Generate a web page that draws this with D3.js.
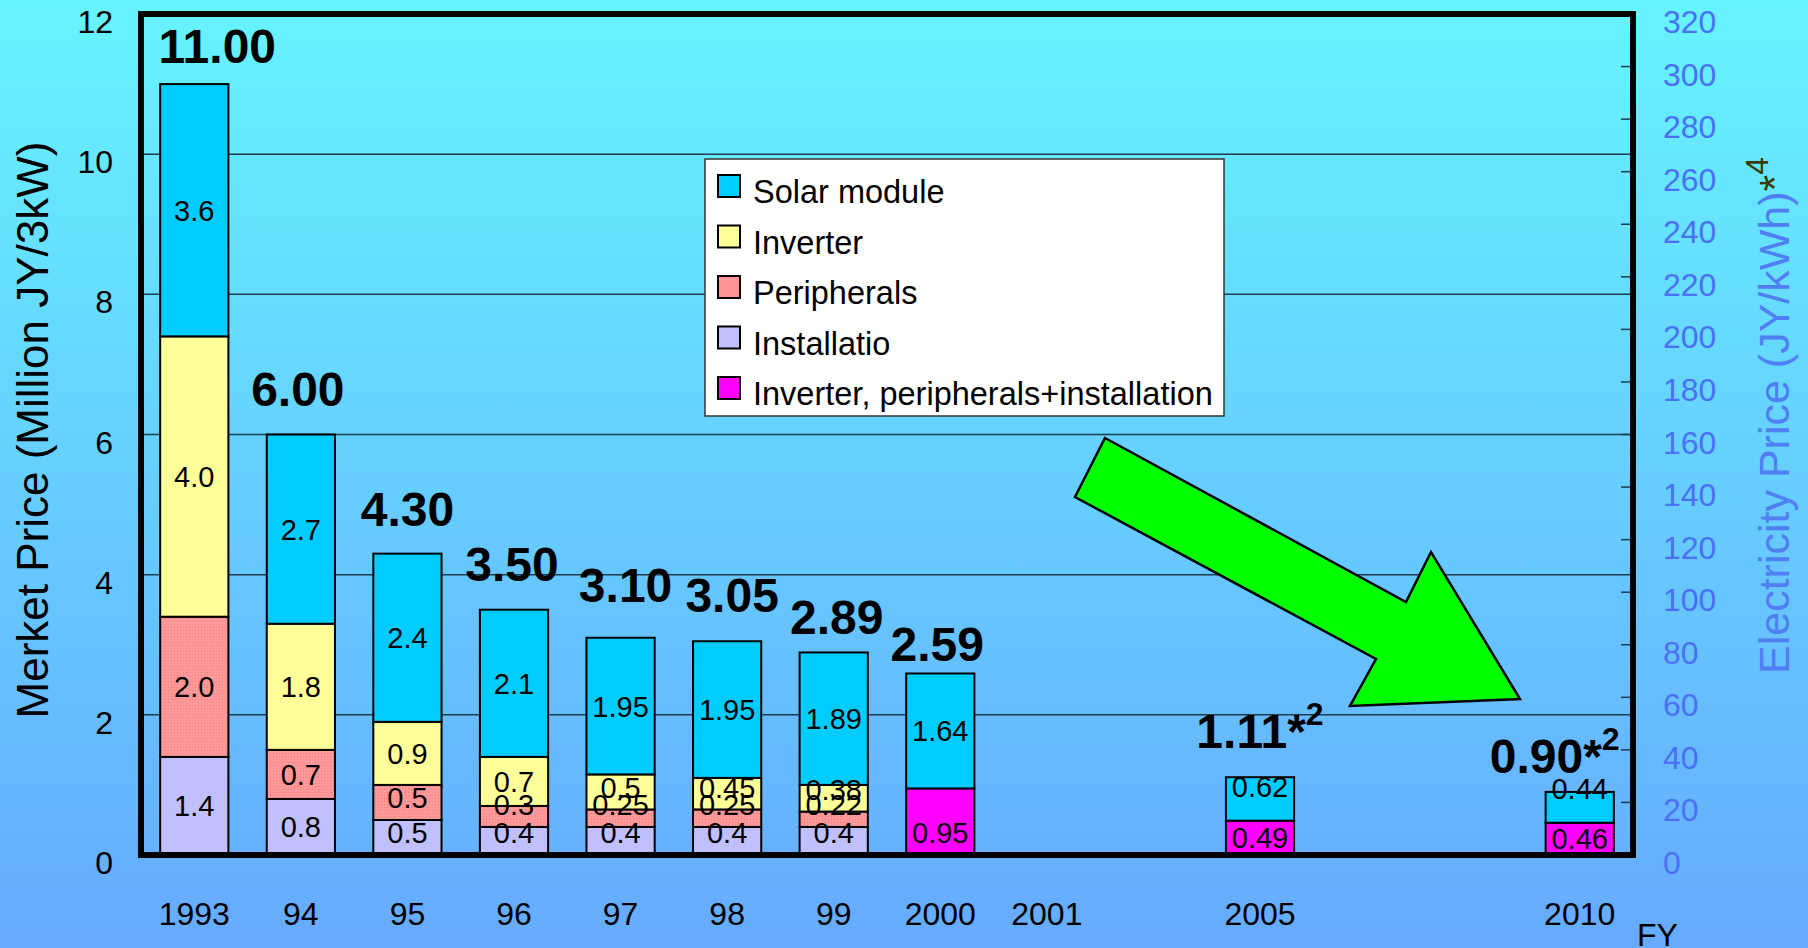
<!DOCTYPE html>
<html>
<head>
<meta charset="utf-8">
<script src="https://cdn.jsdelivr.net/npm/d3@7"></script>
<style>
  html, body { margin: 0; padding: 0; background: #66ccff; }
  svg { display: block; font-family: "Liberation Sans", Arial, sans-serif; }
</style>
</head>
<body>
<div id="chart"></div>
<script>
// --- Data (million JY per 3kW system) ---
const categories = ["1993", "94", "95", "96", "97", "98", "99", "2000", "2001", "2005", "2010"];
const solarModule = [3.6, 2.7, 2.4, 2.1, 1.95, 1.95, 1.89, 1.64, null, 0.62, 0.44];
const inverter = [4.0, 1.8, 0.9, 0.7, 0.5, 0.45, 0.38, null, null, null, null];
const peripherals = [2.0, 0.7, 0.5, 0.3, 0.25, 0.25, 0.22, null, null, null, null];
const installation = [1.4, 0.8, 0.5, 0.4, 0.4, 0.4, 0.4, null, null, null, null];
const combinedBOS = [null, null, null, null, null, null, null, 0.95, null, 0.49, 0.46];
const totalLabels = ["11.00", "6.00", "4.30", "3.50", "3.10", "3.05", "2.89", "2.59", null, "1.11", "0.90"];
const forecastYears = ["2005", "2010"];
// x axis slots (the gaps keep the uneven spacing of the original)
const axisSlots = ["1993", "94", "95", "96", "97", "98", "99", "2000", "2001", "gap-a", "2005", "gap-b", "gap-c", "2010"];
const leftTicks = [0, 2, 4, 6, 8, 10, 12];
const rightTicks = d3.range(0, 321, 20);

const seriesNames = ["Solar module", "Inverter", "Peripherals", "Installatio", "Inverter, peripherals+installation"];

// hand-placed nudges of the big total labels (px, relative to bar top)
const totalNudge = [[23, 8], [-3, 0], [0, 1], [-2, 0], [5, -7], [5, 0], [3, 11], [-3, 17], [0, 0], [0, 0], [-25, 10]];

const W = 1808, H = 948;
const plot = { left: 141, right: 1633, top: 14, bottom: 855 };

const svg = d3.select("#chart").append("svg")
  .attr("width", W).attr("height", H).attr("viewBox", `0 0 ${W} ${H}`);

const defs = svg.append("defs");
const grad = defs.append("linearGradient").attr("id", "bg")
  .attr("x1", 0).attr("y1", 0).attr("x2", 0).attr("y2", 1);
grad.append("stop").attr("offset", "0%").attr("stop-color", "#66f4ff");
grad.append("stop").attr("offset", "100%").attr("stop-color", "#66aaff");

const pat = defs.append("pattern").attr("id", "dots")
  .attr("width", 3).attr("height", 3).attr("patternUnits", "userSpaceOnUse");
pat.append("rect").attr("width", 3).attr("height", 3).attr("fill", "#ff9999");
pat.append("rect").attr("width", 1).attr("height", 1).attr("fill", "#f08080");

const colors = {
  solar: "#00ccff",
  inverter: "#ffff99",
  peripherals: "url(#dots)",
  installation: "#c0c0ff",
  combined: "#ff00ff"
};
const legendColors = [colors.solar, colors.inverter, "#ff9494", colors.installation, colors.combined];

svg.append("rect").attr("width", W).attr("height", H).attr("fill", "url(#bg)");

// --- Scales ---
const x = d3.scaleBand().domain(axisSlots)
  .range([plot.left, plot.right]).paddingInner(0.36).paddingOuter(0.18);
const y = d3.scaleLinear().domain([0, 12]).range([plot.bottom, plot.top]);
const y2 = d3.scaleLinear().domain([0, 320]).range([plot.bottom, plot.top]);

// --- Gridlines ---
svg.append("g").selectAll("line").data(leftTicks.filter(d => d > 0 && d < 12)).join("line")
  .attr("x1", plot.left).attr("x2", plot.right)
  .attr("y1", d => y(d)).attr("y2", d => y(d))
  .attr("stroke", "#1c3d4c").attr("stroke-width", 1.5);

// right axis inner ticks
svg.append("g").selectAll("line").data(rightTicks).join("line")
  .attr("x1", plot.right - 12).attr("x2", plot.right)
  .attr("y1", d => y2(d)).attr("y2", d => y2(d))
  .attr("stroke", "#1c3d4c").attr("stroke-width", 1.5);

// --- Stacked segments ---
const segments = [];
categories.forEach((cat, i) => {
  const forecast = forecastYears.includes(cat);
  const stack = [
    ["installation", installation[i]],
    ["peripherals", peripherals[i]],
    ["inverter", inverter[i]],
    ["combined", combinedBOS[i]],
    ["solar", solarModule[i]]
  ];
  let base = 0;
  stack.forEach(([key, v]) => {
    if (v == null) return;
    segments.push({ cat, key, v, y0: base, y1: base + v, forecast });
    base += v;
  });
});

const fmt = v => Number.isInteger(Math.round(v * 100) / 10) ? v.toFixed(1) : v.toFixed(2);

svg.append("g").selectAll("rect").data(segments).join("rect")
  .attr("x", d => x(d.cat))
  .attr("width", x.bandwidth())
  .attr("y", d => y(d.y1))
  .attr("height", d => y(d.y0) - y(d.y1))
  .attr("fill", d => colors[d.key])
  .attr("stroke", "#000").attr("stroke-width", 2);

function labelCenter(d) {
  const top = y(d.y1), bot = y(d.y0), mid = (top + bot) / 2;
  if (d.key === "combined") return Math.max(mid, bot - 22);
  if (d.forecast && d.key === "solar") return bot - 34;
  return Math.min(mid, bot - 22);
}

svg.append("g").selectAll("text").data(segments).join("text")
  .attr("x", d => x(d.cat) + x.bandwidth() / 2)
  .attr("y", labelCenter)
  .attr("dy", "0.36em")
  .attr("text-anchor", "middle")
  .attr("font-size", 29)
  .attr("fill", "#000")
  .text(d => fmt(d.v));

// --- Plot frame ---
svg.append("rect")
  .attr("x", plot.left).attr("y", plot.top)
  .attr("width", plot.right - plot.left).attr("height", plot.bottom - plot.top)
  .attr("fill", "none").attr("stroke", "#000").attr("stroke-width", 6);

// --- Legend ---
const legend = svg.append("g").attr("transform", "translate(705,159)");
legend.append("rect").attr("width", 519).attr("height", 257)
  .attr("fill", "#fff").attr("stroke", "#333").attr("stroke-width", 1.5);
const li = legend.selectAll("g").data(seriesNames).join("g")
  .attr("transform", (d, i) => `translate(13,${16 + i * 50.5})`);
li.append("rect").attr("width", 22).attr("height", 22)
  .attr("fill", (d, i) => legendColors[i]).attr("stroke", "#000").attr("stroke-width", 2);
li.append("text").attr("x", 35).attr("y", 28).attr("font-size", 32.5).text(d => d);

// --- Green trend arrow ---
const arrow = [[1105, 438], [1406, 602], [1431, 552], [1520, 699], [1350, 706], [1376, 659], [1075, 497]];
svg.append("path")
  .attr("d", d3.line()(arrow) + "Z")
  .attr("fill", "#00ff00").attr("stroke", "#000").attr("stroke-width", 2.5)
  .attr("stroke-linejoin", "miter");

// --- Total labels ---
const totals = categories.map((cat, i) => ({
  cat, label: totalLabels[i], nudge: totalNudge[i],
  top: (solarModule[i] || 0) + (inverter[i] || 0) + (peripherals[i] || 0) + (installation[i] || 0) + (combinedBOS[i] || 0),
  forecast: forecastYears.includes(cat)
})).filter(d => d.label);

const tl = svg.append("g").selectAll("text").data(totals).join("text")
  .attr("x", d => x(d.cat) + x.bandwidth() / 2 + d.nudge[0])
  .attr("y", d => y(d.top) - 29 + d.nudge[1])
  .attr("text-anchor", "middle")
  .attr("font-size", 48).attr("font-weight", "bold").attr("fill", "#000")
  .text(d => d.label);
tl.filter(d => d.forecast).append("tspan").text("*");
tl.filter(d => d.forecast).append("tspan").attr("dy", -23).attr("font-size", 32).text("2");

// --- Axes labels ---
svg.append("g").selectAll("text").data(leftTicks).join("text")
  .attr("x", 113).attr("y", d => y(d) + 19)
  .attr("text-anchor", "end").attr("font-size", 32).attr("fill", "#000")
  .text(d => d);

svg.append("g").selectAll("text").data(rightTicks).join("text")
  .attr("x", 1663).attr("y", d => y2(d) + 19)
  .attr("text-anchor", "start").attr("font-size", 32).attr("fill", "#4a70f6")
  .text(d => d);

svg.append("g").selectAll("text").data(axisSlots.filter(d => !d.startsWith("gap"))).join("text")
  .attr("x", d => x(d) + x.bandwidth() / 2).attr("y", 925)
  .attr("text-anchor", "middle").attr("font-size", 32).attr("fill", "#000")
  .text(d => d);

svg.append("text").attr("x", 1637).attr("y", 946)
  .attr("font-size", 32).attr("fill", "#000").text("FY");

svg.append("text")
  .attr("transform", "translate(48,430) rotate(-90)")
  .attr("text-anchor", "middle").attr("font-size", 44).attr("fill", "#000")
  .text("Merket Price (Million JY/3kW)");

const rt = svg.append("text")
  .attr("transform", "translate(1789,674) rotate(-90)")
  .attr("text-anchor", "start").attr("font-size", 43).attr("fill", "#4f7ff2")
  .text("Electricity Price (JY/kWh)");
rt.append("tspan").attr("fill", "#3a3a00").text("*");
rt.append("tspan").attr("fill", "#3a3a00").attr("dy", -21).attr("font-size", 32).text("4");
</script>
</body>
</html>
